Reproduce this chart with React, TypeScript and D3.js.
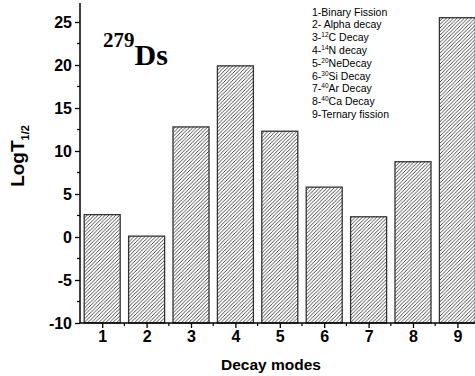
import React, { useEffect, useRef } from 'react';
import * as d3 from 'd3';

const modes = [1, 2, 3, 4, 5, 6, 7, 8, 9];
const logT = [2.6, 0.1, 12.8, 19.9, 12.3, 5.8, 2.35, 8.75, 25.5];
const yTicks = [-10, -5, 0, 5, 10, 15, 20, 25];
const legendLines = [
  ['1-Binary Fission', '', ''],
  ['2- Alpha decay', '', ''],
  ['3-', '12', 'C Decay'],
  ['4-', '14', 'N decay'],
  ['5-', '20', 'NeDecay'],
  ['6-', '30', 'Si Decay'],
  ['7-', '40', 'Ar Decay'],
  ['8-', '40', 'Ca Decay'],
  ['9-Ternary fission', '', ''],
];

const App = () => {
  const ref = useRef<SVGSVGElement>(null);

  useEffect(() => {
    const svg = d3.select(ref.current);
    svg.selectAll('*').remove();

    const width = 475;
    const height = 376;
    const margin = { top: 3, right: 0, bottom: 53, left: 80 };
    const sans = 'Liberation Sans, Arial, sans-serif';

    svg.attr('width', width).attr('height', height);

    const defs = svg.append('defs');
    defs.append('pattern')
      .attr('id', 'hatch')
      .attr('patternUnits', 'userSpaceOnUse')
      .attr('width', 3.6)
      .attr('height', 3.6)
      .append('path')
      .attr('d', 'M-0.9,0.9 l1.8,-1.8 M0,3.6 l3.6,-3.6 M2.7,4.5 l1.8,-1.8')
      .attr('stroke', '#000')
      .attr('stroke-width', 0.7);

    const x = d3.scaleLinear().domain([0.5, 9.5]).range([margin.left, margin.left + 9 * 44.4]);
    const y = d3.scaleLinear().domain([-10, 25]).range([323, 22]);
    const bw = 36;

    const chart = svg.append('g');

    chart.selectAll('rect.bar')
      .data(modes)
      .enter()
      .append('rect')
      .attr('class', 'bar')
      .attr('x', d => x(d) - bw / 2)
      .attr('y', (d, i) => y(logT[i]))
      .attr('width', bw)
      .attr('height', (d, i) => y(-10) - y(logT[i]))
      .attr('fill', 'url(#hatch)')
      .attr('stroke', '#333')
      .attr('stroke-width', 1.3);

    // y axis
    const yAxis = chart.append('g')
      .attr('transform', `translate(${margin.left},0)`)
      .call(d3.axisLeft(y).tickValues(yTicks).tickSize(5).tickPadding(3)
        .tickFormat(d => String(d)).tickSizeOuter(0));
    yAxis.select('.domain').remove();
    yAxis.append('line')
      .attr('x1', 0).attr('x2', 0)
      .attr('y1', margin.top).attr('y2', y(-10))
      .attr('stroke', '#000').attr('stroke-width', 1.5);
    yAxis.selectAll('.tick line').attr('stroke-width', 1.3);
    yAxis.selectAll('.tick text')
      .attr('font-family', sans)
      .attr('font-weight', 'bold')
      .attr('font-size', 16)
      .attr('fill', '#000');
    yAxis.selectAll('line.minor')
      .data(d3.range(-7.5, 26, 5))
      .enter()
      .append('line')
      .attr('class', 'minor')
      .attr('x1', -3).attr('x2', 0)
      .attr('y1', d => y(d)).attr('y2', d => y(d))
      .attr('stroke', '#000').attr('stroke-width', 1.2);

    // x axis
    const xAxis = chart.append('g')
      .attr('transform', `translate(0,${y(-10)})`)
      .call(d3.axisBottom(x).tickValues(modes).tickSize(5).tickPadding(3)
        .tickFormat(d => String(d)).tickSizeOuter(0));
    xAxis.select('.domain').remove();
    xAxis.append('line')
      .attr('x1', margin.left).attr('x2', width)
      .attr('y1', 0).attr('y2', 0)
      .attr('stroke', '#000').attr('stroke-width', 1.5);
    xAxis.selectAll('.tick line').attr('stroke-width', 1.3);
    xAxis.selectAll('.tick text')
      .attr('font-family', sans)
      .attr('font-weight', 'bold')
      .attr('font-size', 16)
      .attr('fill', '#000');
    xAxis.selectAll('line.minor')
      .data(d3.range(1.5, 9.5, 1))
      .enter()
      .append('line')
      .attr('class', 'minor')
      .attr('x1', d => x(d)).attr('x2', d => x(d))
      .attr('y1', 0).attr('y2', 3)
      .attr('stroke', '#000').attr('stroke-width', 1.2);

    // axis titles
    svg.append('text')
      .attr('x', 271)
      .attr('y', 370)
      .attr('text-anchor', 'middle')
      .attr('font-family', sans)
      .attr('font-weight', 'bold')
      .attr('font-size', 15.5)
      .text('Decay modes');

    const yl = svg.append('text')
      .attr('transform', 'translate(24,156) rotate(-90)')
      .attr('text-anchor', 'middle')
      .attr('font-family', sans)
      .attr('font-weight', 'bold')
      .attr('font-size', 19);
    yl.append('tspan').text('LogT');
    yl.append('tspan').attr('font-size', 11).attr('dy', 5).text('1/2');

    // nucleus label
    const nuc = svg.append('text')
      .attr('x', 103)
      .attr('y', 65)
      .attr('font-family', 'Liberation Serif, Times New Roman, serif')
      .attr('font-weight', 'bold');
    nuc.append('tspan').attr('font-size', 21).attr('dy', -18).text('279');
    nuc.append('tspan').attr('font-size', 30).attr('dy', 18).text('Ds');

    // legend
    const leg = svg.append('g')
      .attr('font-family', sans)
      .attr('font-size', 10.5)
      .attr('fill', '#000');
    legendLines.forEach((l, i) => {
      const t = leg.append('text')
        .attr('x', 312)
        .attr('y', 15.5 + i * 12.8);
      t.append('tspan').text(l[0]);
      if (l[1]) {
        t.append('tspan').attr('font-size', 6.5).attr('dy', -4).text(l[1]);
        t.append('tspan').attr('dy', 4).text(l[2]);
      }
    });
  }, []);

  return <svg ref={ref} style={{ position: 'absolute', left: 0, top: 0, display: 'block' }}></svg>;
};

export default App;
